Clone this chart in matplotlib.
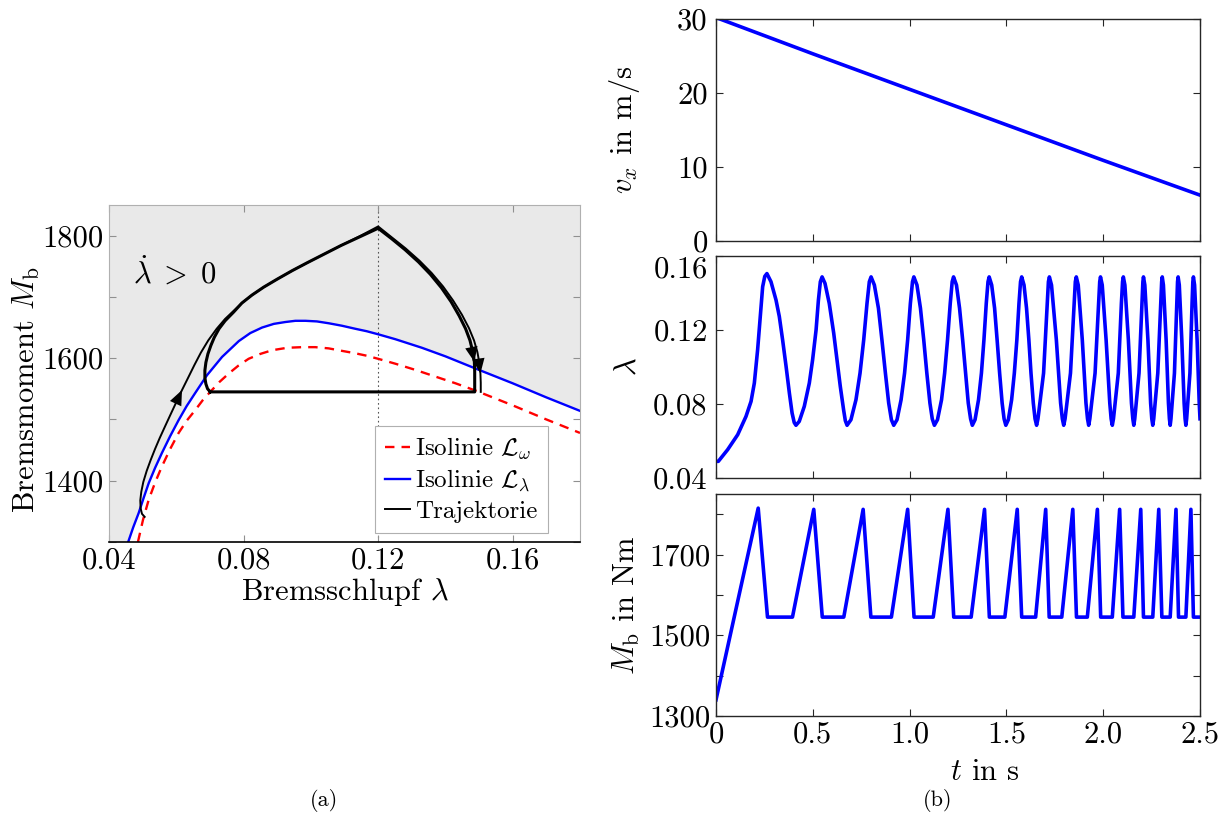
import numpy as np
import matplotlib
matplotlib.use('Agg')
import matplotlib.pyplot as plt

plt.rcParams['font.family'] = 'serif'
plt.rcParams['font.serif'] = ['cmr10']
plt.rcParams['mathtext.fontset'] = 'cm'
plt.rcParams['axes.formatter.use_mathtext'] = True

# ---- phase plane (a) ----
# isoline L_lambda
iso_lam_l = [0.0457, 0.0472, 0.0488, 0.0503, 0.0518, 0.0537, 0.0557, 0.0582, 0.0607, 0.0631, 0.0656,
             0.0691, 0.0736, 0.0786, 0.0820, 0.0855, 0.0890, 0.0924, 0.0954, 0.0984, 0.1018, 0.1053,
             0.1092, 0.1132, 0.1166, 0.1200, 0.1251, 0.1330, 0.1400, 0.1490, 0.1600, 0.1700, 0.1800]
iso_lam_m = [1300, 1324, 1347, 1372, 1396, 1421, 1445, 1473, 1499, 1522, 1543,
             1572, 1602, 1628, 1641, 1650, 1656, 1659, 1661, 1661, 1660, 1657,
             1653, 1648, 1644, 1639, 1631, 1617, 1603, 1583, 1559, 1536, 1514]
# isoline L_omega
iso_om_l = [0.0486, 0.0501, 0.0518, 0.0537, 0.0557, 0.0582, 0.0607, 0.0631, 0.0656, 0.0678, 0.0701,
            0.0728, 0.0756, 0.0785, 0.0815, 0.0850, 0.0885, 0.0930, 0.0974, 0.1013, 0.1053, 0.1092,
            0.1132, 0.1166, 0.1200, 0.1251, 0.1310, 0.1370, 0.1430, 0.1490, 0.1600, 0.1700, 0.1800]
iso_om_m = [1300, 1336, 1369, 1397, 1423, 1452, 1478, 1498, 1515, 1531, 1545,
            1561, 1575, 1588, 1599, 1607, 1613, 1617, 1618, 1618, 1616, 1612,
            1608, 1604, 1599, 1591, 1581, 1570, 1559, 1547, 1523, 1500, 1478]

# trajectory: first pass from the start point
traj0_l = [0.0506, 0.0498, 0.0494, 0.0493, 0.0496, 0.0502, 0.0512, 0.0524, 0.0537, 0.0551, 0.0566,
           0.0582, 0.0599, 0.0617, 0.0636, 0.0654, 0.0673, 0.0695, 0.0720, 0.0745, 0.0770,
           0.0795, 0.0825, 0.0860, 0.0900, 0.0945, 0.0990, 0.1040, 0.1090, 0.1145, 0.1200,
           0.1241, 0.1282, 0.1323, 0.1359, 0.1393, 0.1423, 0.1449, 0.1470, 0.1485, 0.1495,
           0.1501, 0.1504, 0.1505, 0.1505]
traj0_m = [1341, 1346, 1355, 1368, 1382, 1398, 1416, 1434, 1452, 1470, 1488,
           1507, 1527, 1548, 1569, 1589, 1609, 1629, 1648, 1664, 1677,
           1690, 1703, 1716, 1729, 1743, 1756, 1770, 1784, 1799, 1815,
           1797, 1779, 1759, 1739, 1717, 1694, 1671, 1649, 1629, 1610,
           1592, 1575, 1560, 1545]
# trajectory: limit cycle (hook, upper arc, descent, plateau)
traj1_l = [0.0701, 0.0693, 0.0688, 0.0685, 0.0685, 0.0688, 0.0694, 0.0703, 0.0713, 0.0727, 0.0745,
           0.0770, 0.0795, 0.0825, 0.0860, 0.0900, 0.0945, 0.0990, 0.1040, 0.1090, 0.1145, 0.1200,
           0.1240, 0.1280, 0.1320, 0.1355, 0.1388, 0.1417, 0.1441, 0.1460, 0.1473, 0.1481,
           0.1486, 0.1487, 0.1487, 0.0701]
traj1_m = [1545, 1550, 1558, 1568, 1580, 1593, 1607, 1621, 1634, 1648, 1661,
           1675, 1690, 1703, 1716, 1729, 1743, 1756, 1770, 1784, 1798, 1812,
           1795, 1777, 1757, 1737, 1715, 1692, 1669, 1648, 1629, 1611,
           1594, 1578, 1545, 1545]

lam_crit = 0.12

# ---- time signals (b) ----
vx_t = [0.0, 0.5, 1.0, 1.5, 2.0, 2.5]
vx = [30.2, 25.3, 20.5, 15.7, 10.9, 6.2]

lam_t = [0.000, 0.012, 0.060, 0.112, 0.155, 0.181, 0.198, 0.215, 0.229, 0.241, 0.252, 0.263,
         0.284, 0.310, 0.327, 0.344, 0.362, 0.379, 0.393, 0.404, 0.413,
         0.430, 0.456, 0.482, 0.499, 0.517, 0.529, 0.539, 0.548,
         0.563, 0.585, 0.608, 0.625, 0.642, 0.659, 0.668, 0.677,
         0.697, 0.723, 0.744, 0.763, 0.780, 0.792, 0.801,
         0.818, 0.839, 0.857, 0.875, 0.892, 0.906, 0.918,
         0.935, 0.956, 0.974, 0.990, 1.004, 1.015, 1.022,
         1.038, 1.056, 1.073, 1.089, 1.105, 1.117, 1.128,
         1.144, 1.165, 1.181, 1.196, 1.210, 1.220, 1.227,
         1.242, 1.258, 1.274, 1.289, 1.303, 1.315, 1.324,
         1.338, 1.356, 1.371, 1.384, 1.396, 1.405, 1.411,
         1.424, 1.439, 1.452, 1.465, 1.478, 1.488, 1.497,
         1.510, 1.527, 1.541, 1.554, 1.565, 1.573, 1.579,
         1.591, 1.604, 1.616, 1.627, 1.639, 1.648, 1.656,
         1.663, 1.692, 1.711, 1.717, 1.722, 1.733, 1.758, 1.780, 1.789, 1.796,
         1.803, 1.831, 1.850, 1.856, 1.861, 1.871, 1.892, 1.911, 1.919, 1.925,
         1.931, 1.958, 1.976, 1.982, 1.986, 1.995, 2.015, 2.034, 2.041, 2.047,
         2.053, 2.078, 2.094, 2.100, 2.104, 2.112, 2.130, 2.146, 2.153, 2.158,
         2.163, 2.185, 2.200, 2.205, 2.208, 2.215, 2.231, 2.245, 2.251, 2.256,
         2.261, 2.282, 2.297, 2.302, 2.305, 2.311, 2.325, 2.337, 2.342, 2.346,
         2.350, 2.368, 2.380, 2.384, 2.387, 2.393, 2.406, 2.418, 2.423, 2.427,
         2.431, 2.448, 2.459, 2.463, 2.466, 2.472, 2.485, 2.496, 2.500]
lam = [0.0490, 0.0490, 0.0553, 0.0634, 0.0733, 0.0814, 0.0913, 0.1093, 0.1273, 0.1434, 0.1490, 0.1505,
       0.1461, 0.1362, 0.1273, 0.1147, 0.1003, 0.0859, 0.0751, 0.0700, 0.0685,
       0.0706, 0.0787, 0.0913, 0.1039, 0.1201, 0.1362, 0.1461, 0.1487,
       0.1452, 0.1344, 0.1183, 0.1039, 0.0895, 0.0769, 0.0710, 0.0685,
       0.0715, 0.0823, 0.0967, 0.1147, 0.1344, 0.1461, 0.1487,
       0.1443, 0.1318, 0.1147, 0.0967, 0.0805, 0.0715, 0.0685,
       0.0715, 0.0823, 0.0967, 0.1147, 0.1344, 0.1461, 0.1487,
       0.1443, 0.1318, 0.1147, 0.0967, 0.0805, 0.0720, 0.0685,
       0.0715, 0.0823, 0.0967, 0.1147, 0.1344, 0.1461, 0.1487,
       0.1443, 0.1318, 0.1147, 0.0967, 0.0805, 0.0720, 0.0685,
       0.0715, 0.0823, 0.0967, 0.1147, 0.1344, 0.1461, 0.1487,
       0.1443, 0.1318, 0.1147, 0.0967, 0.0805, 0.0720, 0.0685,
       0.0715, 0.0823, 0.0967, 0.1147, 0.1344, 0.1461, 0.1487,
       0.1443, 0.1318, 0.1147, 0.0967, 0.0805, 0.0720, 0.0685,
       0.0720, 0.0967, 0.1344, 0.1461, 0.1487, 0.1443, 0.1147, 0.0805, 0.0720, 0.0685,
       0.0720, 0.0967, 0.1344, 0.1461, 0.1487, 0.1443, 0.1147, 0.0805, 0.0720, 0.0685,
       0.0720, 0.0967, 0.1344, 0.1461, 0.1487, 0.1443, 0.1147, 0.0805, 0.0720, 0.0685,
       0.0720, 0.0967, 0.1344, 0.1461, 0.1487, 0.1443, 0.1147, 0.0805, 0.0720, 0.0685,
       0.0720, 0.0967, 0.1344, 0.1461, 0.1487, 0.1443, 0.1147, 0.0805, 0.0720, 0.0685,
       0.0720, 0.0967, 0.1344, 0.1461, 0.1487, 0.1443, 0.1147, 0.0805, 0.0720, 0.0685,
       0.0720, 0.0967, 0.1344, 0.1461, 0.1487, 0.1443, 0.1147, 0.0805, 0.0720, 0.0685,
       0.0720, 0.0967, 0.1344, 0.1461, 0.1487, 0.1443, 0.1147, 0.0805, 0.0720]

mb_t = [0.000, 0.218, 0.266, 0.395, 0.505, 0.549, 0.660, 0.760, 0.800, 0.906, 0.990, 1.023,
        1.122, 1.198, 1.228, 1.318, 1.387, 1.412, 1.492, 1.556, 1.579, 1.651, 1.703, 1.721,
        1.786, 1.843, 1.862, 1.918, 1.970, 1.987, 2.047, 2.085, 2.102, 2.158, 2.194, 2.208,
        2.256, 2.287, 2.303, 2.346, 2.376, 2.389, 2.427, 2.453, 2.466, 2.500]
mb = [1340, 1815, 1545, 1545, 1812, 1545, 1545, 1812, 1545, 1545, 1812, 1545,
      1545, 1812, 1545, 1545, 1812, 1545, 1545, 1812, 1545, 1545, 1812, 1545,
      1545, 1812, 1545, 1545, 1812, 1545, 1545, 1812, 1545, 1545, 1812, 1545,
      1545, 1812, 1545, 1545, 1812, 1545, 1545, 1812, 1545, 1545]

FS = 22
W, H = 1229, 814
fig = plt.figure(figsize=(W / 100, H / 100), dpi=100)


def box(x0, y0, x1, y1):
    # pixel box -> figure fraction rect
    return [x0 / W, 1 - y1 / H, (x1 - x0) / W, (y1 - y0) / H]


'''------ (a) phase plane ------'''
ax = fig.add_axes(box(109, 205, 580, 542))
ax.set_facecolor('#e9e9e9')
ax.fill_between(iso_lam_l, iso_lam_m, 1300, color='white', lw=0, zorder=0.5)
ax.axvline(lam_crit, color='#555555', lw=0.8, ls=(0, (1.5, 2.5)), zorder=1)
ax.plot(iso_om_l, iso_om_m, color='#ff0000', lw=1.7, dashes=(4, 3), label=r'Isolinie $\mathcal{L}_\omega$', zorder=2)
ax.plot(iso_lam_l, iso_lam_m, color='#0000ff', lw=1.7, label=r'Isolinie $\mathcal{L}_\lambda$', zorder=2)
ax.plot(traj0_l, traj0_m, color='k', lw=1.4, zorder=3, label='Trajektorie')
ax.plot(traj1_l, traj1_m, color='k', lw=2.2, zorder=3)

# direction arrows along the trajectory
arw = dict(arrowstyle='-|>,head_length=0.6,head_width=0.25', color='k', lw=0,
           mutation_scale=18, shrinkA=0, shrinkB=0)
for xs, ys, i in [(traj0_l, traj0_m, 13), (traj0_l, traj0_m, 42), (traj1_l, traj1_m, 32)]:
    ax.annotate('', xy=(xs[i], ys[i]), xytext=(xs[i - 2], ys[i - 2]), arrowprops=arw, zorder=4)

ax.text(0.0595, 1740, r'$\dot{\lambda}\;>\;0$', fontsize=FS, ha='center', va='center')

ax.set_xlim(0.04, 0.18)
ax.set_ylim(1300, 1850)
ax.set_xticks([0.04, 0.08, 0.12, 0.16], ['0.04', '0.08', '0.12', '0.16'])
ax.set_yticks(np.arange(1300, 1801, 100), ['', '1400', '', '1600', '', '1800'])
ax.tick_params(direction='in', length=5, width=0.8, color='#909090', labelsize=FS, pad=4,
               top=True, right=True)
for s in ['left', 'top', 'right']:
    ax.spines[s].set_color('#b0b0b0')
ax.spines['bottom'].set_color('k')
ax.spines['bottom'].set_linewidth(1.2)
ax.set_xlabel(r'Bremsschlupf $\lambda$', fontsize=FS, labelpad=1)
ax.set_ylabel(r'Bremsmoment $M_{\mathrm{b}}$', fontsize=FS)
ax.yaxis.set_label_coords(-0.142, 0.45)
leg = ax.legend(loc='lower right', bbox_to_anchor=(0.931, 0.027), fontsize=18, handlelength=1.0,
                handletextpad=0.2, borderpad=0.4, labelspacing=0.25, borderaxespad=0,
                fancybox=False, framealpha=1, edgecolor='#b0b0b0')
leg.get_frame().set_linewidth(0.8)

'''------ (b) time signals ------'''
rows = [(19, 241), (256, 478), (494, 716)]
axs = [fig.add_axes(box(716, r0, 1200, r1)) for r0, r1 in rows]
for a in axs:
    a.set_xlim(0, 2.5)
    a.set_xticks([0, 0.5, 1.0, 1.5, 2.0, 2.5])
    a.tick_params(direction='in', length=5, width=0.8, color='#262626', labelsize=FS, pad=6,
                  top=True, right=True, labelbottom=False)
    for s in a.spines.values():
        s.set_color('#262626')
        s.set_linewidth(1.0)

axs[0].plot(vx_t, vx, color='#0000ff', lw=2.6)
axs[0].set_ylim(0, 30)
axs[0].set_yticks([0, 10, 20, 30], ['0', '10', '20', '30'])
axs[0].set_ylabel(r'$v_x$ in m/s', fontsize=FS)

axs[1].plot(lam_t, lam, color='#0000ff', lw=2.6)
axs[1].set_ylim(0.04, 0.16)
axs[1].set_yticks([0.04, 0.08, 0.12, 0.16], ['0.04', '0.08', '0.12', '0.16'])
axs[1].get_yticklabels()[-1].set_verticalalignment('top')
axs[1].set_ylabel(r'$\lambda$', fontsize=FS)

axs[2].plot(mb_t, mb, color='#0000ff', lw=2.6)
axs[2].set_ylim(1300, 1850)
axs[2].set_yticks(np.arange(1300, 1801, 100), ['1300', '', '1500', '', '1700', ''])
axs[2].set_xticklabels(['0', '0.5', '1.0', '1.5', '2.0', '2.5'])
axs[2].tick_params(labelbottom=True, pad=4)
axs[2].set_ylabel(r'$M_{\mathrm{b}}$ in Nm', fontsize=FS)
axs[2].set_xlabel(r'$t$ in s', fontsize=FS)
axs[2].xaxis.set_label_coords(0.555, -0.19)

for a in axs:
    a.yaxis.set_label_coords(-0.153, 0.5)

fig.text(324 / W, 1 - 800 / H, '(a)', fontsize=16, ha='center', va='center')
fig.text(938 / W, 1 - 800 / H, '(b)', fontsize=16, ha='center', va='center')

fig.savefig('out.png', dpi=100)
